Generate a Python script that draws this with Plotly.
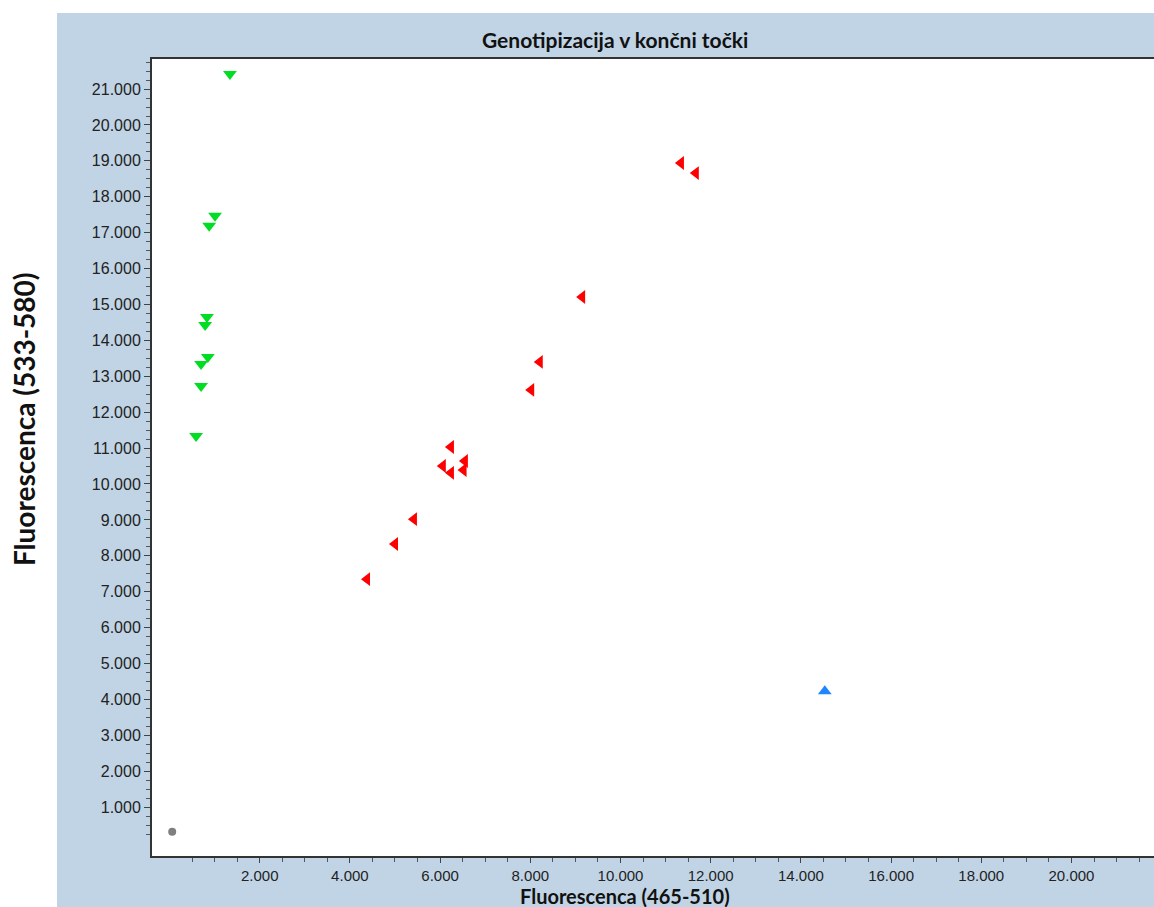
import plotly.graph_objects as go

# ---- data ----
green_x = [1340, 1010, 880, 830, 790, 850, 700, 700, 590]
green_y = [21420, 17470, 17190, 14650, 14430, 13540, 13340, 12730, 11340]

red_x = [11340, 11670, 9150, 8210, 8020, 6240, 6550, 6060, 6520, 6240, 5420, 5000, 4380]
red_y = [18940, 18660, 15210, 13400, 12620, 11030, 10640, 10500, 10390, 10310, 9020, 8330, 7350]

blue_x = [14530]
blue_y = [4230]

gray_x = [60]
gray_y = [310]

x_tick_vals = [2000, 4000, 6000, 8000, 10000, 12000, 14000, 16000, 18000, 20000]
x_tick_text = ["2.000", "4.000", "6.000", "8.000", "10.000", "12.000", "14.000", "16.000", "18.000", "20.000"]
y_tick_vals = [1000 * i for i in range(1, 22)]
y_tick_text = [f"{i}.000" for i in range(1, 22)]

title_text = "Genotipizacija v končni točki"
x_title = "Fluorescenca (465-510)"
y_title = "Fluorescenca (533-580)"

# ---- layout constants ----
W, H = 1154, 907
L, R, T, B = 152, 0, 59, 51
PANEL = "#C1D4E5"
x_range = [-388, 21830]
y_range = [-362, 21838]

fig = go.Figure()
fig.add_trace(go.Scatter(x=gray_x, y=gray_y, mode="markers",
                         marker=dict(symbol="circle", size=8, color="#7F7F7F")))
fig.add_trace(go.Scatter(x=green_x, y=green_y, mode="markers",
                         marker=dict(symbol="triangle-down", size=12, color="#00DD22")))
fig.add_trace(go.Scatter(x=red_x, y=red_y, mode="markers",
                         marker=dict(symbol="triangle-left", size=12, color="#FF0000")))
fig.add_trace(go.Scatter(x=blue_x, y=blue_y, mode="markers",
                         marker=dict(symbol="triangle-up", size=12, color="#1E86FF")))

tick_font = dict(family="Liberation Sans, Arial, sans-serif", size=15, color="#222222")

x_minor = [v for v in range(500, 22000, 500) if v % 2000 != 0]
y_minor = [v for v in range(250, 22000, 250) if v % 1000 != 0]

fig.update_xaxes(range=x_range, tickmode="array", tickvals=x_tick_vals, ticktext=x_tick_text,
                 ticks="outside", ticklen=5, tickwidth=1, tickcolor="#444444",
                 showgrid=False, zeroline=False, showline=True, linecolor="#333333",
                 linewidth=2, mirror=True, tickfont=tick_font,
                 minor=dict(tickmode="array", tickvals=x_minor, ticks="outside",
                            ticklen=4, tickcolor="#555555", showgrid=False))
fig.update_yaxes(range=y_range, tickmode="array", tickvals=y_tick_vals, ticktext=y_tick_text,
                 ticks="outside", ticklen=6, tickwidth=1, tickcolor="#444444",
                 showgrid=False, zeroline=False, showline=True, linecolor="#333333",
                 linewidth=2, mirror=False,
                 tickfont=dict(family="Liberation Sans, Arial, sans-serif", size=16, color="#222222"),
                 minor=dict(tickmode="array", tickvals=y_minor, ticks="outside",
                            ticklen=4, tickcolor="#555555", showgrid=False))

def px(xp):
    return (xp - L) / (W - L - R)

def py(yp):
    return (H - B - yp) / (H - T - B)

fig.update_layout(
    width=W, height=H,
    margin=dict(l=L, r=R, t=T, b=B, pad=0),
    paper_bgcolor=PANEL, plot_bgcolor="#FFFFFF",
    showlegend=False,
    shapes=[
        dict(type="rect", xref="paper", yref="paper", x0=px(0), x1=px(W), y0=py(13), y1=py(0),
             fillcolor="#FFFFFF", line=dict(width=0), layer="below"),
        dict(type="rect", xref="paper", yref="paper", x0=px(0), x1=px(57), y0=py(H), y1=py(0),
             fillcolor="#FFFFFF", line=dict(width=0), layer="below"),
    ],
    annotations=[
        dict(text=f"<b>{title_text}</b>", xref="paper", yref="paper", x=px(615), y=py(39),
             xanchor="center", yanchor="middle", showarrow=False,
             font=dict(family="Lato, sans-serif", size=21, color="#111111")),
        dict(text=f"<b>{x_title}</b>", xref="paper", yref="paper", x=px(625), y=py(896),
             xanchor="center", yanchor="middle", showarrow=False,
             font=dict(family="Lato, sans-serif", size=20, color="#111111")),
        dict(text=f"<b>{y_title}</b>", xref="paper", yref="paper", x=px(24), y=py(419),
             xanchor="center", yanchor="middle", showarrow=False, textangle=-90,
             font=dict(family="Lato, sans-serif", size=28, color="#111111")),
    ],
)

fig.write_html(
    "out.html",
    config={"displayModeBar": False},
    post_script="document.body.style.margin='0';document.body.style.overflow='hidden';",
)
